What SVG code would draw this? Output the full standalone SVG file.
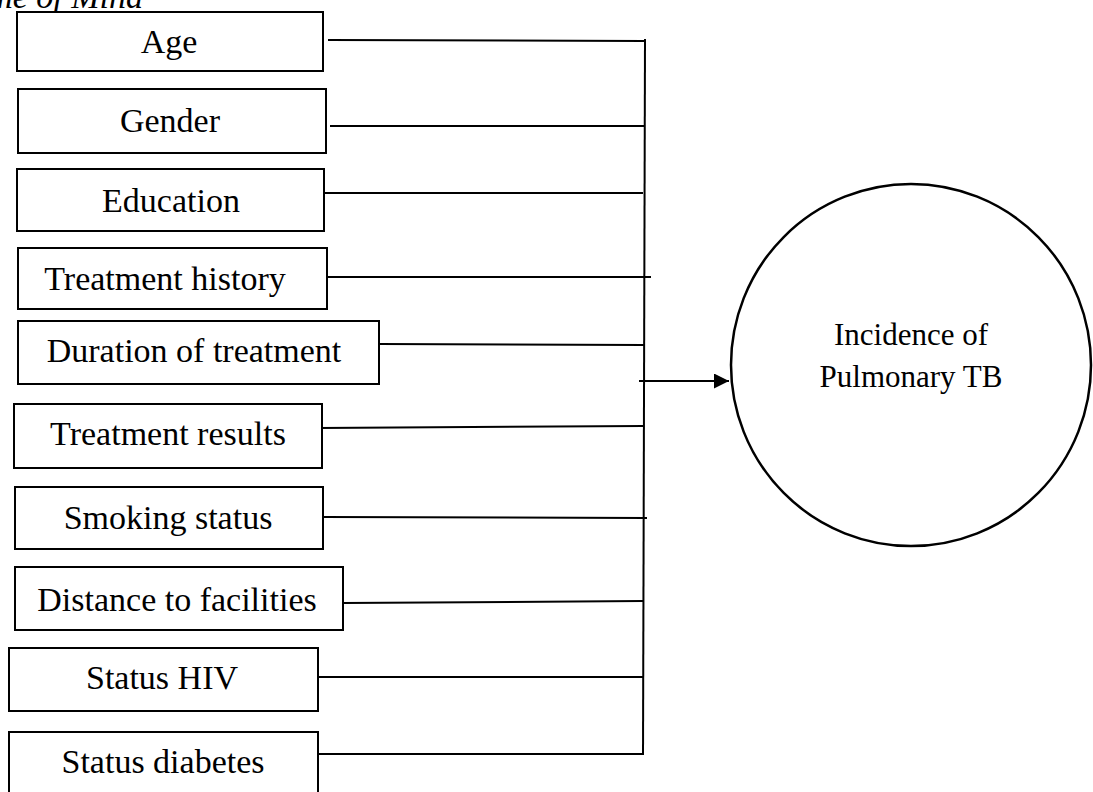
<svg xmlns="http://www.w3.org/2000/svg" width="1093" height="792" viewBox="0 0 1093 792">
<style>
.box{fill:#fff;stroke:#000;stroke-width:2}
.lbl{font-family:"Liberation Serif","DejaVu Serif",serif;font-size:34px;fill:#000;text-anchor:middle}
.clbl{font-family:"Liberation Serif","DejaVu Serif",serif;font-size:31px;fill:#000;text-anchor:middle}
.ln{stroke:#000;stroke-width:2;fill:none}
</style>
<defs>
<marker id="ah" markerUnits="userSpaceOnUse" markerWidth="16" markerHeight="16" refX="15" refY="7.5" orient="auto">
<path d="M0,0 L15,7.5 L0,15 Z" fill="#000"/>
</marker>
</defs>
<rect width="1093" height="792" fill="#fff"/>
<text x="143" y="7.5" font-family="Liberation Serif, serif" font-style="italic" font-size="34" text-anchor="end">Frame of Mind</text>

<g id="connectors">
<line class="ln" x1="645" y1="39" x2="643" y2="755"/>
<line class="ln" x1="328" y1="40" x2="644" y2="41"/>
<line class="ln" x1="330" y1="126" x2="644" y2="126"/>
<line class="ln" x1="322" y1="193" x2="643" y2="193"/>
<line class="ln" x1="327" y1="277" x2="651" y2="277"/>
<line class="ln" x1="379" y1="344" x2="644" y2="345"/>
<line class="ln" x1="319" y1="428" x2="644" y2="426"/>
<line class="ln" x1="323" y1="517" x2="647" y2="518"/>
<line class="ln" x1="343" y1="603" x2="643" y2="601"/>
<line class="ln" x1="318" y1="677" x2="643" y2="677"/>
<line class="ln" x1="318" y1="754" x2="643" y2="754"/>
<line class="ln" x1="639" y1="381" x2="729" y2="381" marker-end="url(#ah)"/>
</g>

<g id="n-age"><rect class="box" x="17" y="12" width="306" height="59"/><text class="lbl" x="169" y="53">Age</text></g>
<g id="n-gender"><rect class="box" x="18" y="89" width="308" height="64"/><text class="lbl" x="170" y="132">Gender</text></g>
<g id="n-education"><rect class="box" x="17" y="169" width="307" height="62"/><text class="lbl" x="171" y="212">Education</text></g>
<g id="n-history"><rect class="box" x="18" y="248" width="309" height="61"/><text class="lbl" x="165" y="290">Treatment history</text></g>
<g id="n-duration"><rect class="box" x="18" y="321" width="361" height="63"/><text class="lbl" x="194" y="362">Duration of treatment</text></g>
<g id="n-results"><rect class="box" x="14" y="404" width="308" height="64"/><text class="lbl" x="168" y="445">Treatment results</text></g>
<g id="n-smoking"><rect class="box" x="15" y="487" width="308" height="62"/><text class="lbl" x="168" y="529">Smoking status</text></g>
<g id="n-distance"><rect class="box" x="15" y="567" width="328" height="63"/><text class="lbl" x="177" y="611">Distance to facilities</text></g>
<g id="n-hiv"><rect class="box" x="9" y="648" width="309" height="63"/><text class="lbl" x="162" y="689">Status HIV</text></g>
<g id="n-diabetes"><rect class="box" x="9" y="732" width="309" height="63"/><text class="lbl" x="163" y="773">Status diabetes</text></g>

<g id="n-incidence">
<ellipse cx="911" cy="365" rx="180" ry="181" fill="#fff" stroke="#000" stroke-width="2.5"/>
<text class="clbl" x="911" y="345">Incidence of</text>
<text class="clbl" x="911" y="387">Pulmonary TB</text>
</g>
</svg>
